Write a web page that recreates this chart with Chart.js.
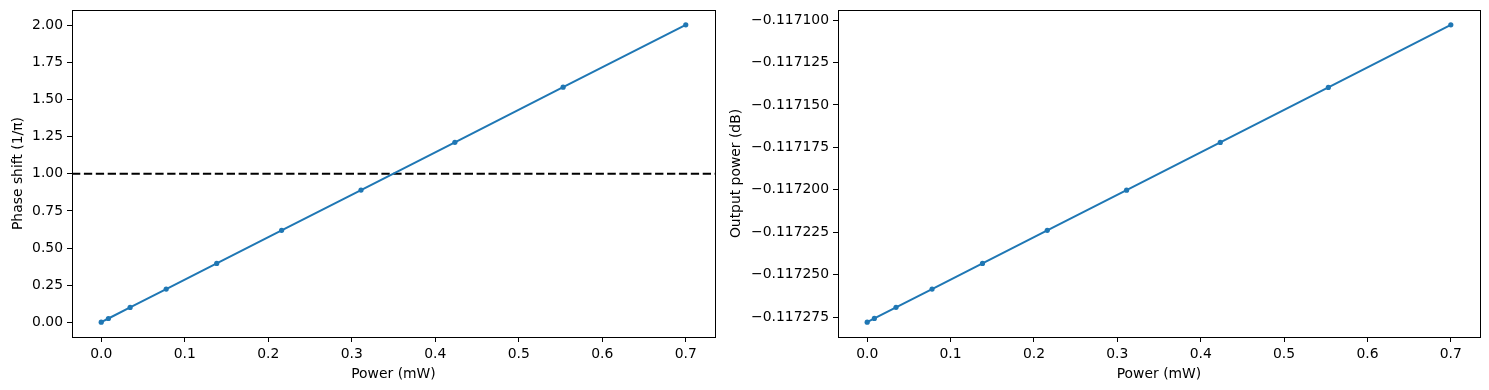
<!DOCTYPE html>
<html>
<head>
<meta charset="utf-8">
<script src="https://cdn.jsdelivr.net/npm/chart.js@4.4.0/dist/chart.umd.min.js"></script>
<style>
  body { margin: 0; background: #fff; width: 1489px; height: 390px; position: relative; overflow: hidden; }
  canvas { position: absolute; top: 0; }
  #phaseChart { left: 0; }
  #outputChart { left: 718px; }
</style>
</head>
<body>
<canvas id="phaseChart" width="730" height="390"></canvas>
<canvas id="outputChart" width="771" height="390"></canvas>
<script>
// Data
const power = [0, 0.0086, 0.0346, 0.0778, 0.1383, 0.2160, 0.3111, 0.4235, 0.5531, 0.7];
const phaseShift = [0, 0.0245, 0.099, 0.223, 0.396, 0.619, 0.891, 1.213, 1.585, 2.005];
const outputPower = [-0.117278, -0.1172758, -0.1172693, -0.1172585, -0.1172434,
  -0.1172239, -0.1172002, -0.1171721, -0.1171397, -0.1171028];
const powerTicks = [0, 0.1, 0.2, 0.3, 0.4, 0.5, 0.6, 0.7];
const phaseTicks = [0, 0.25, 0.5, 0.75, 1.0, 1.25, 1.5, 1.75, 2.0];
const outputTicks = [-0.117275, -0.11725, -0.117225, -0.1172, -0.117175, -0.11715, -0.117125, -0.1171];
const phaseRef = 1.0;

const blue = '#1f77b4';
const font = { family: 'DejaVu Sans', size: 13.9 };

// matplotlib-like 5% margins
function padded(arr) {
  const lo = Math.min(...arr), hi = Math.max(...arr);
  const m = (hi - lo) * 0.05;
  return { min: lo - m, max: hi + m };
}

// draw a full box round the plot area
const framePlugin = {
  id: 'frame',
  afterDraw(chart) {
    const { ctx, chartArea: a } = chart;
    ctx.save();
    ctx.strokeStyle = '#000';
    ctx.lineWidth = 1;
    ctx.strokeRect(Math.round(a.left) + 0.5, Math.round(a.top) + 0.5,
      Math.round(a.right - a.left), Math.round(a.bottom - a.top));
    ctx.restore();
  }
};

// dashed horizontal reference line
const refLinePlugin = {
  id: 'refLine',
  beforeDatasetsDraw(chart, args, opts) {
    if (opts.value === undefined) return;
    const { ctx, chartArea: a } = chart;
    const y = chart.scales.y.getPixelForValue(opts.value);
    ctx.save();
    ctx.strokeStyle = '#000';
    ctx.lineWidth = 2;
    ctx.setLineDash([8.3, 3.6]);
    ctx.beginPath();
    ctx.moveTo(a.left, y);
    ctx.lineTo(a.right, y);
    ctx.stroke();
    ctx.restore();
  }
};

function makeChart(canvasId, yValues, yTicks, yTitle, yFormat, yWidth, rightPad, refValue) {
  const xr = padded(power);
  const yr = padded(yValues);
  return new Chart(document.getElementById(canvasId), {
    type: 'line',
    data: {
      datasets: [{
        data: power.map((p, i) => ({ x: p, y: yValues[i] })),
        borderColor: blue,
        backgroundColor: blue,
        borderWidth: 2,
        pointRadius: 2.6,
        pointHoverRadius: 2.6,
        pointBorderWidth: 0,
        tension: 0
      }]
    },
    options: {
      responsive: false,
      animation: false,
      events: [],
      layout: { padding: { top: 10, right: rightPad, left: 0, bottom: 7 } },
      plugins: {
        legend: { display: false },
        tooltip: { enabled: false },
        refLine: { value: refValue }
      },
      scales: {
        x: {
          type: 'linear',
          min: xr.min,
          max: xr.max,
          afterBuildTicks: s => { s.ticks = powerTicks.map(v => ({ value: v })); },
          afterFit: s => { s.height = 46; s.paddingLeft = 0; s.paddingRight = 0; },
          border: { display: false },
          grid: { drawOnChartArea: false, drawTicks: true, tickLength: 5, tickWidth: 1, tickColor: '#000' },
          ticks: { color: '#000', font, padding: 4, maxRotation: 0, callback: v => v.toFixed(1) },
          title: { display: true, text: 'Power (mW)', color: '#000', font, padding: { top: 2, bottom: 0 } }
        },
        y: {
          type: 'linear',
          min: yr.min,
          max: yr.max,
          afterBuildTicks: s => { s.ticks = yTicks.map(v => ({ value: v })); },
          afterFit: s => { s.width = yWidth; s.paddingTop = 0; s.paddingBottom = 0; },
          border: { display: false },
          grid: { drawOnChartArea: false, drawTicks: true, tickLength: 5, tickWidth: 1, tickColor: '#000' },
          ticks: { color: '#000', font, padding: 4, callback: yFormat },
          title: { display: true, text: yTitle, color: '#000', font, padding: { top: 10, bottom: 0 } }
        }
      }
    },
    plugins: [framePlugin, refLinePlugin]
  });
}

makeChart('phaseChart', phaseShift, phaseTicks, 'Phase shift (1/\u03c0)',
  v => v.toFixed(2), 72, 15, phaseRef);
makeChart('outputChart', outputPower, outputTicks, 'Output power (dB)',
  v => v.toFixed(6).replace('-', '\u2212'), 120, 9, undefined);
</script>
</body>
</html>
